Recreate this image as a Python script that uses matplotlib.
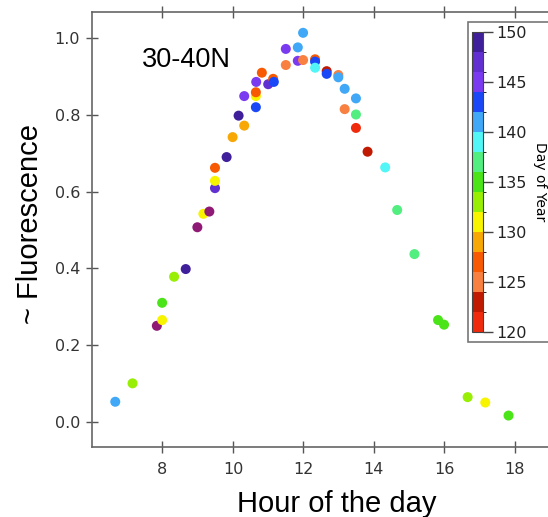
import matplotlib
matplotlib.use("Agg")
import matplotlib.pyplot as plt
from matplotlib.colors import ListedColormap, BoundaryNorm
from matplotlib.patches import Rectangle
import numpy as np

# Observations: hour of day, relative fluorescence, day of year
hour = [6.66, 7.15, 7.84, 7.99, 7.99, 8.33, 8.66, 8.99, 9.16, 9.33,
        9.49, 9.49, 9.49, 9.82, 9.99, 10.32, 10.16, 10.65, 10.65, 10.65,
        10.32, 10.66, 10.82, 11.00, 11.14, 11.16, 11.50, 11.50, 11.84, 11.84,
        11.99, 11.99, 12.33, 12.33, 12.33, 12.66, 12.66, 12.99, 12.99, 13.17,
        13.49, 13.17, 13.49, 13.49, 13.82, 14.32, 14.66, 15.15, 15.82, 15.99,
        16.66, 17.16, 17.82]
fluor = [0.052, 0.100, 0.250, 0.265, 0.310, 0.378, 0.398, 0.507, 0.542, 0.548,
         0.609, 0.628, 0.662, 0.690, 0.742, 0.772, 0.798, 0.820, 0.849, 0.859,
         0.849, 0.886, 0.910, 0.880, 0.894, 0.886, 0.972, 0.930, 0.976, 0.941,
         1.014, 0.943, 0.945, 0.939, 0.923, 0.914, 0.907, 0.904, 0.898, 0.868,
         0.843, 0.815, 0.801, 0.766, 0.704, 0.663, 0.552, 0.437, 0.265, 0.253,
         0.064, 0.050, 0.016]
day = [141, 133, 151, 131, 135, 133, 149, 151, 131, 151,
       146, 131, 127, 149, 129, 129, 149, 143, 131, 127,
       145, 145, 127, 146, 127, 143, 145, 125, 141, 145,
       141, 125, 127, 143, 139, 123, 143, 125, 141, 141,
       141, 125, 137, 121, 123, 139, 137, 137, 135, 135,
       133, 131, 135]

day_bounds = list(range(120, 152, 2))
day_colors = ['#f02a0c', '#c01a02', '#f88040', '#f85a04', '#f8a804',
              '#f8f400', '#98ee04', '#4ae418', '#52ee80', '#52f6f6',
              '#40a8f6', '#1a48f6', '#7a3af0', '#6230d0', '#40209a']
x_ticks = [8, 10, 12, 14, 16, 18]
y_ticks = [0.0, 0.2, 0.4, 0.6, 0.8, 1.0]
cbar_ticks = [120, 125, 130, 135, 140, 145, 150]

cmap = ListedColormap(day_colors)
cmap.set_over('#8e1a76')
norm = BoundaryNorm(day_bounds, cmap.N)

W, H = 548, 517
fig = plt.figure(figsize=(W / 100, H / 100), dpi=100)
ax = fig.add_axes([92 / W, 1 - 447 / H, 1 - 92 / W, (447 - 12.3) / H])

ax.scatter(hour, fluor, c=day, cmap=cmap, norm=norm, s=52,
           edgecolors='none', zorder=3)

ax.set_xlim(6.0, 18.94)
ax.set_ylim(-0.066, 1.0675)
ax.set_xticks(x_ticks)
ax.set_yticks(y_ticks)
ax.set_yticklabels([f"{v:.1f}" for v in y_ticks])
ax.tick_params(axis='both', direction='inout', length=9, width=1.0,
               color='#555555', labelcolor='#333333', labelsize=11.5,
               top=True, pad=4)
ax.tick_params(axis='x', pad=6)
for side in ['left', 'bottom', 'top']:
    ax.spines[side].set_color('#666666')
    ax.spines[side].set_linewidth(1.2)
ax.spines['right'].set_visible(False)

# Axis titles
fig.text(337 / W, 1 - 512 / H, 'Hour of the day', fontsize=21,
         family='Liberation Sans', ha='center', va='baseline')
fig.text(30 / W, 1 - 224 / H, '~ Fluorescence', fontsize=21,
         family='Liberation Sans', ha='center', va='center', rotation=90)
ax.text(8.67, 0.943, '30-40N', fontsize=19.5, family='Liberation Sans',
        ha='center', va='center')

# Colour bar inside a framed white box
frame = Rectangle((468 / W, 1 - 341.7 / H), 0.2, (341.7 - 21.7) / H,
                  transform=fig.transFigure, facecolor='white',
                  edgecolor='#777777', linewidth=1.2, zorder=1.5)
fig.add_artist(frame)
cax = fig.add_axes([471.7 / W, 1 - 332.3 / H, 11 / W, (332.3 - 31.7) / H])
cax.set_zorder(2)
cb = fig.colorbar(plt.cm.ScalarMappable(norm=norm, cmap=cmap), cax=cax,
                  ticks=cbar_ticks, extend='neither')
cb.outline.set_linewidth(0.8)
cb.outline.set_edgecolor('#444444')
cax.tick_params(length=7, width=1.0, color='#444444', labelsize=11.5,
                labelcolor='#222222', pad=3)
cb.set_label('Day of Year', rotation=270, fontsize=10, labelpad=14)

fig.savefig('out.png', dpi=100)
